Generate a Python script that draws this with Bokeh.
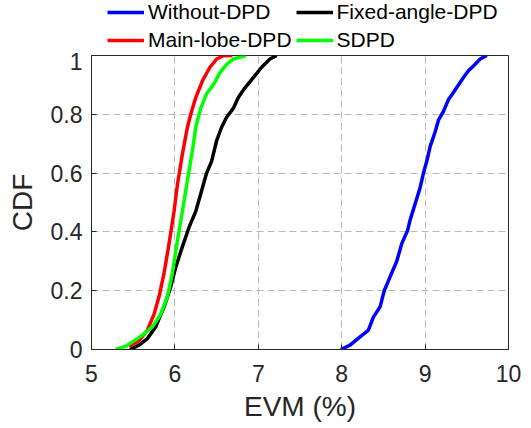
from bokeh.plotting import figure
from bokeh.layouts import column
from bokeh.models import Range1d, FixedTicker, Legend, LegendItem, CustomJSTickFormatter
from bokeh.embed import file_html
from bokeh.resources import INLINE

# ---- data ----
blue_x = [7.99, 8.10, 8.22, 8.32, 8.38, 8.46, 8.51, 8.58, 8.66, 8.72, 8.79, 8.82, 8.88, 8.94,
          8.98, 9.02, 9.06, 9.12, 9.16, 9.22, 9.28, 9.34, 9.40, 9.46, 9.52, 9.60, 9.66, 9.74]
blue_y = [0.0, 0.015, 0.043, 0.066, 0.11, 0.145, 0.20, 0.247, 0.30, 0.36, 0.405, 0.44, 0.495, 0.55,
          0.60, 0.64, 0.69, 0.74, 0.78, 0.81, 0.85, 0.874, 0.90, 0.925, 0.948, 0.97, 0.988, 1.0]

black_x = [5.46, 5.57, 5.67, 5.77, 5.87, 5.95, 6.01, 6.09, 6.17, 6.25, 6.31, 6.38, 6.44, 6.50,
           6.56, 6.62, 6.70, 6.76, 6.84, 6.94, 7.04, 7.14, 7.22]
black_y = [0.0, 0.015, 0.037, 0.077, 0.145, 0.213, 0.28, 0.35, 0.416, 0.47, 0.53, 0.60, 0.64, 0.71,
           0.756, 0.79, 0.82, 0.857, 0.89, 0.925, 0.96, 0.988, 1.0]

red_x = [5.45, 5.57, 5.67, 5.75, 5.81, 5.87, 5.93, 5.99, 6.03, 6.09, 6.15, 6.19, 6.25, 6.33,
         6.42, 6.50, 6.58, 6.69]
red_y = [0.01, 0.03, 0.066, 0.12, 0.18, 0.26, 0.36, 0.47, 0.56, 0.665, 0.756, 0.80, 0.857, 0.914,
         0.96, 0.988, 0.999, 1.0]

green_x = [5.29, 5.41, 5.49, 5.61, 5.73, 5.83, 5.91, 5.97, 6.03, 6.09, 6.15, 6.21, 6.25, 6.31,
           6.38, 6.46, 6.54, 6.62, 6.70, 6.85]
green_y = [0.0, 0.011, 0.026, 0.049, 0.077, 0.12, 0.18, 0.26, 0.37, 0.47, 0.575, 0.676, 0.756, 0.82,
           0.87, 0.90, 0.942, 0.97, 0.988, 1.0]

series_names = ["Without-DPD", "Fixed-angle-DPD", "Main-lobe-DPD", "SDPD"]
series_colors = ["#0000FF", "#000000", "#FF0000", "#00FF00"]
series_x = [blue_x, black_x, red_x, green_x]
series_y = [blue_y, black_y, red_y, green_y]
x_ticks = [5, 6, 7, 8, 9, 10]
y_ticks = [0, 0.2, 0.4, 0.6, 0.8, 1]

FONT = "Liberation Sans"
TXT = "#262626"
LW = 3.5

# ---------- main plot ----------
p = figure(width=531, height=376, output_backend="svg", toolbar_location=None,
           x_range=Range1d(5, 10), y_range=Range1d(0, 1),
           min_border_left=91, min_border_right=23, min_border_top=3, min_border_bottom=79)

p.background_fill_color = "white"
p.border_fill_color = "white"
p.outline_line_color = TXT
p.outline_line_width = 1

for g in (p.xgrid, p.ygrid):
    g.grid_line_color = "#b8b8b8"
    g.grid_line_dash = "7 4"
    g.grid_line_width = 1

p.xaxis.ticker = FixedTicker(ticks=x_ticks)
p.yaxis.ticker = FixedTicker(ticks=y_ticks)
p.xgrid.ticker = FixedTicker(ticks=x_ticks[1:-1])
p.ygrid.ticker = FixedTicker(ticks=y_ticks[1:-1])
p.yaxis.formatter = CustomJSTickFormatter(code="return String(Math.round(tick*10)/10);")

for ax in (p.xaxis, p.yaxis):
    ax.axis_line_color = TXT
    ax.major_tick_line_color = TXT
    ax.major_tick_in = 5
    ax.major_tick_out = 0
    ax.minor_tick_line_color = None
    ax.major_label_text_font = FONT
    ax.major_label_text_font_size = "23px"
    ax.major_label_text_color = TXT
    ax.axis_label_text_font = FONT
    ax.axis_label_text_font_size = "28px"
    ax.axis_label_text_font_style = "normal"
    ax.axis_label_text_color = TXT

p.xaxis.axis_label = "EVM (%)"
p.yaxis.axis_label = "CDF"
p.xaxis.major_label_standoff = 15
p.yaxis.major_label_standoff = 9
p.xaxis.axis_label_standoff = 6
p.yaxis.axis_label_standoff = 10

for xs, ys, col in zip(series_x, series_y, series_colors):
    p.line(xs, ys, line_color=col, line_width=LW)

# ---------- legend strip (above the axes) ----------
lg = figure(width=531, height=52, output_backend="svg", toolbar_location=None,
            x_range=Range1d(0, 1), y_range=Range1d(0, 1),
            min_border_left=0, min_border_right=0, min_border_top=0, min_border_bottom=0)
lg.axis.visible = False
lg.grid.visible = False
lg.outline_line_color = None
lg.background_fill_color = "white"
lg.border_fill_color = "white"

items = []
for name, xs, ys, col in zip(series_names, series_x, series_y, series_colors):
    # same series in the legend strip; their values fall outside its ranges, only the key shows
    r = lg.line(xs, ys, line_color=col, line_width=LW)
    items.append(LegendItem(label=name, renderers=[r]))

legend = Legend(items=items, location=(16, 0), orientation="horizontal", ncols=2,
                background_fill_alpha=0, border_line_color=None,
                padding=0, margin=0, spacing=4,
                glyph_width=37, glyph_height=24, label_height=24, label_standoff=4,
                label_text_font=FONT, label_text_font_size="21px", label_text_color="#000000")
lg.add_layout(legend, "center")

layout = column(lg, p, spacing=0)
open("out.html", "w").write(file_html(layout, INLINE))
